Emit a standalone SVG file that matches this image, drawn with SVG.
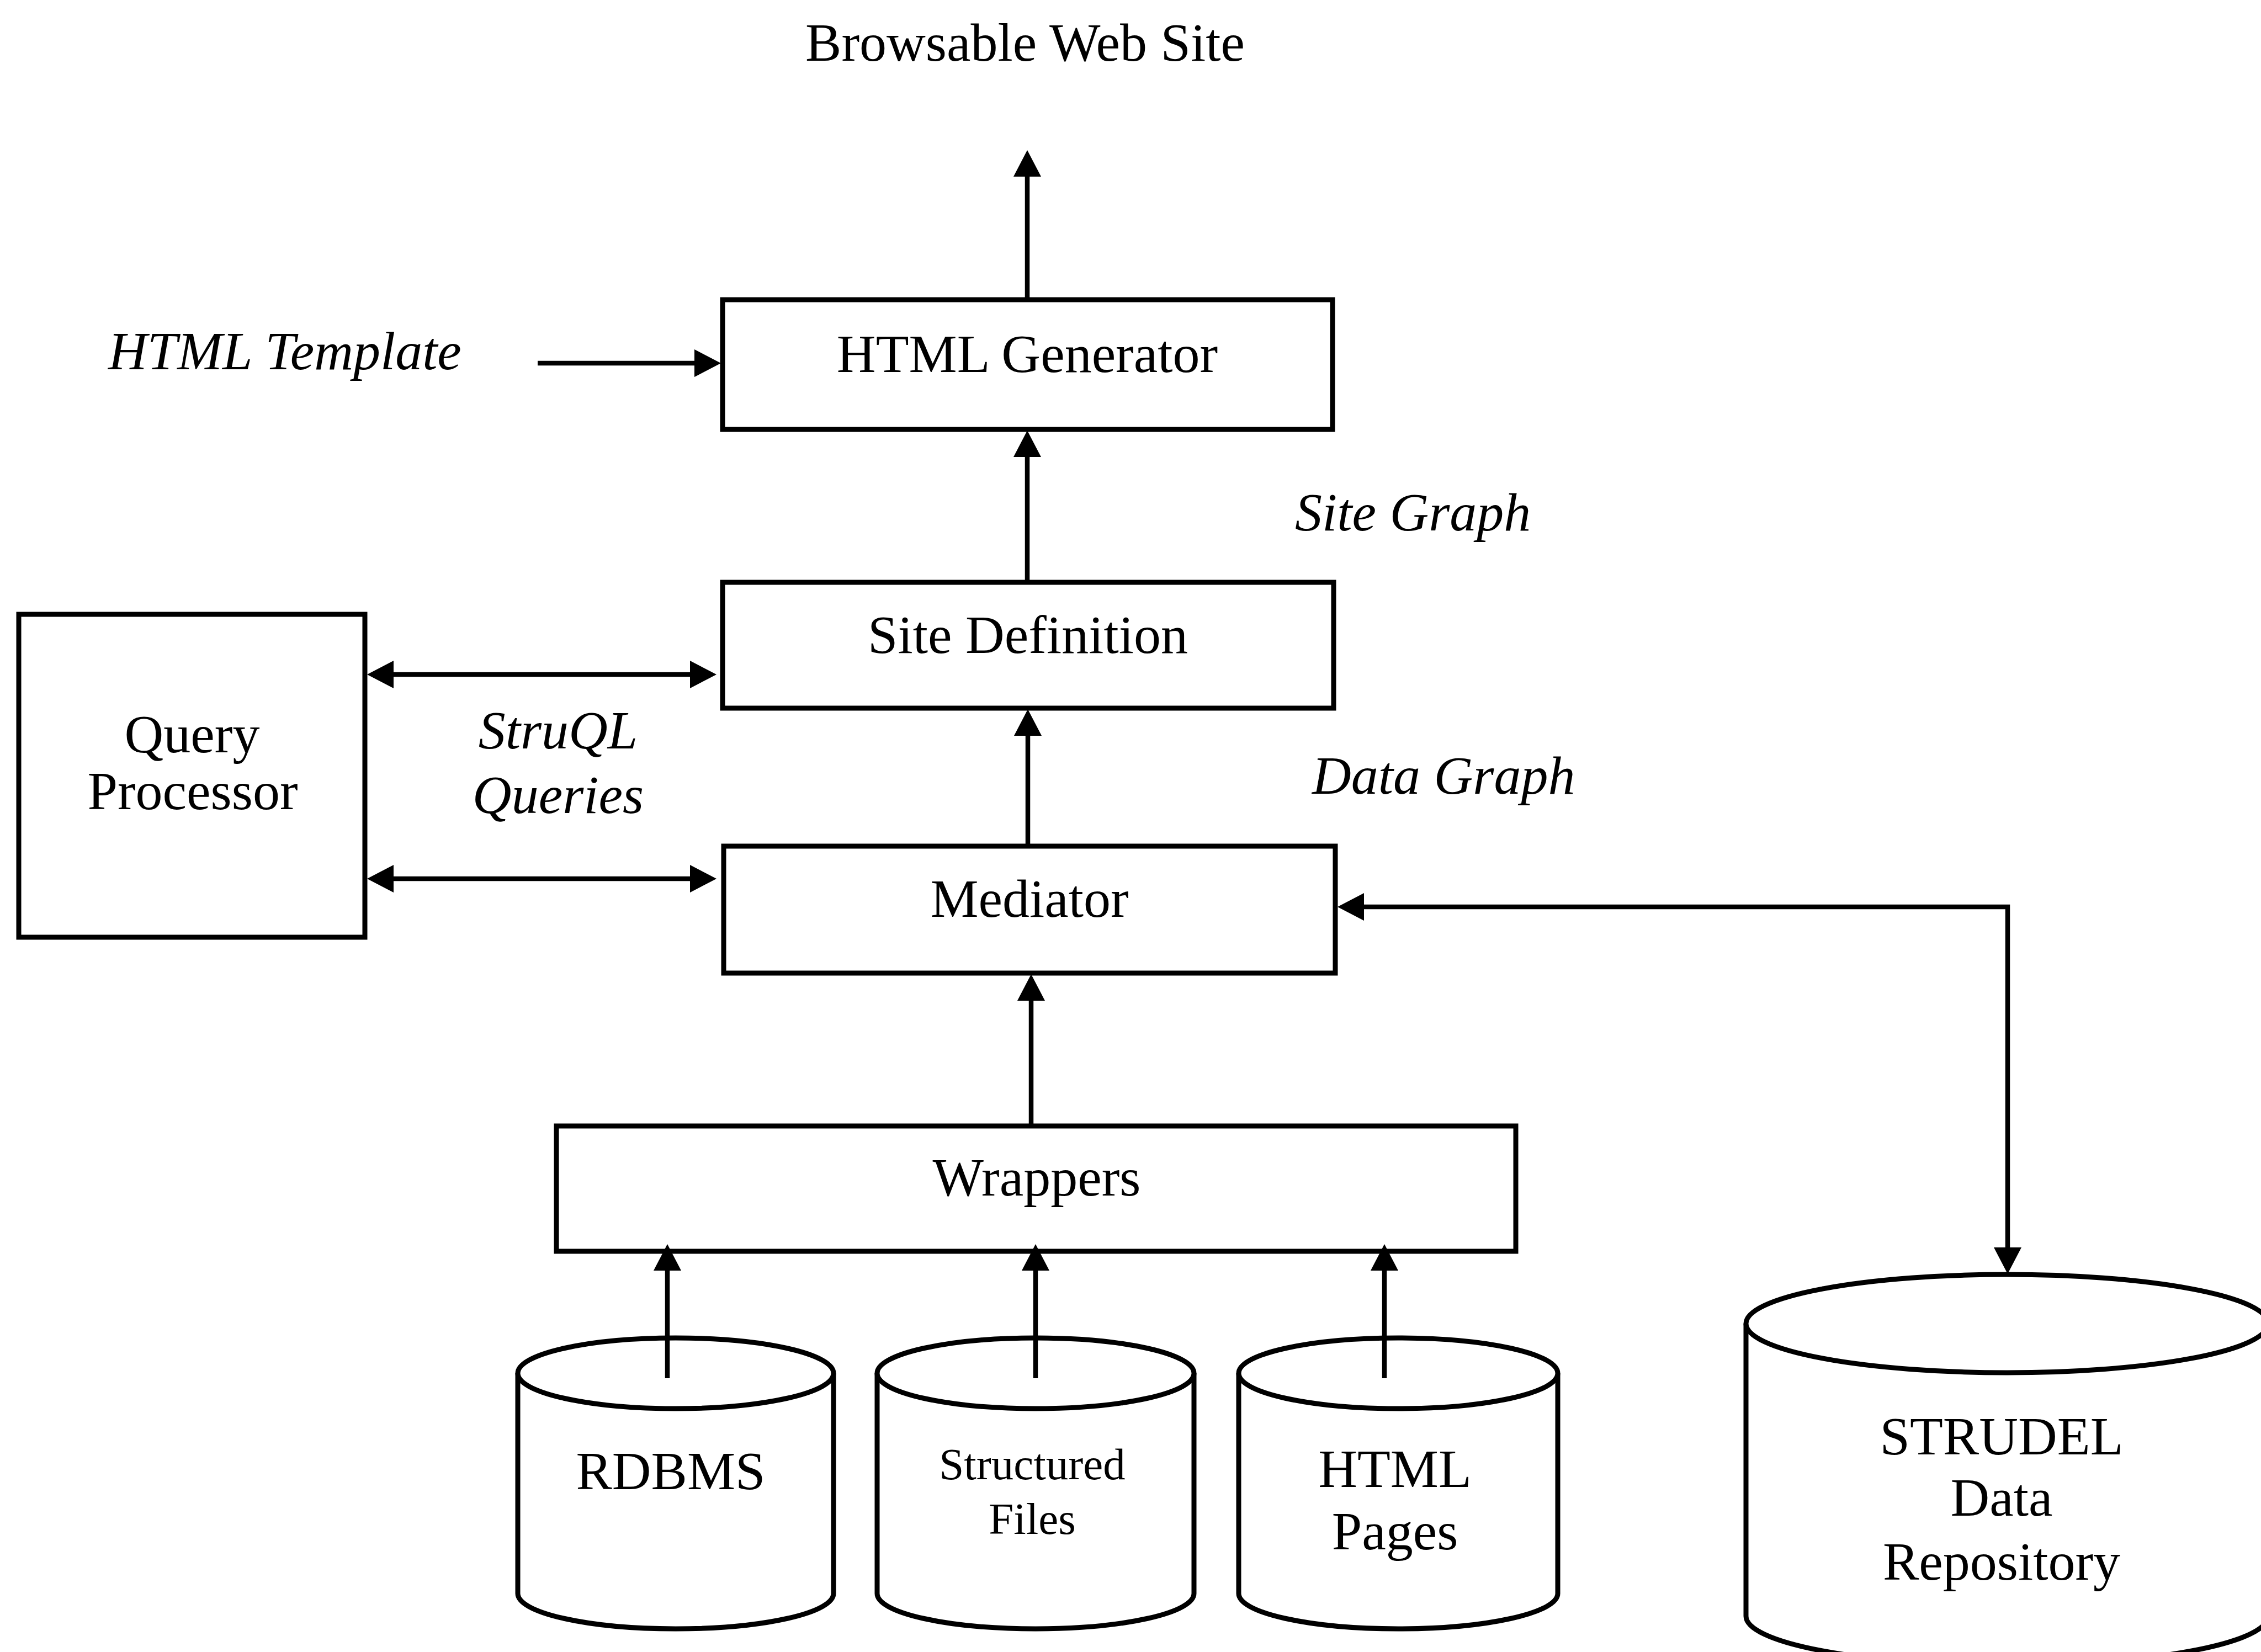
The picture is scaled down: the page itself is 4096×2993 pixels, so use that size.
<svg xmlns="http://www.w3.org/2000/svg" width="4096" height="2993" viewBox="0 0 4096 2993">
  <style>
    .box { fill: #ffffff; stroke: #000000; stroke-width: 9; }
    .cyl { fill: #ffffff; stroke: #000000; stroke-width: 9; }
    .link { fill: none; stroke: #000000; stroke-width: 8.5; }
    .lbl { font-family: "Liberation Serif", "Times New Roman", serif; font-size: 98px; fill: #000000; }
    .mid { text-anchor: middle; }
    .it { font-style: italic; }
    .small { font-size: 81px; }
  </style>
  <defs>
    <marker id="head" viewBox="0 0 48 50" markerWidth="48" markerHeight="50" refX="24" refY="25" orient="auto-start-reverse" markerUnits="userSpaceOnUse">
      <path d="M0,0 L48,25 L0,50 z" fill="#000000"/>
    </marker>
  </defs>
  <rect width="4096" height="2993" fill="#ffffff"/>

  <!-- free labels -->
  <g id="label-website">
    <text class="lbl mid" x="1857" y="110">Browsable Web Site</text>
  </g>
  <g id="label-template">
    <text class="lbl it" x="196" y="669">HTML Template</text>
  </g>
  <g id="label-sitegraph">
    <text class="lbl it" x="2346" y="961">Site Graph</text>
  </g>
  <g id="label-datagraph">
    <text class="lbl it" x="2377" y="1438">Data Graph</text>
  </g>
  <g id="label-struql">
    <text class="lbl it mid" x="1011" y="1356">StruQL</text>
    <text class="lbl it mid" x="1011" y="1473">Queries</text>
  </g>

  <!-- boxes -->
  <g id="html-generator">
    <rect class="box" x="1309" y="543" width="1105" height="235"/>
    <text class="lbl mid" x="1861" y="674">HTML Generator</text>
  </g>
  <g id="site-definition">
    <rect class="box" x="1309" y="1055" width="1107" height="228"/>
    <text class="lbl mid" x="1862" y="1183">Site Definition</text>
  </g>
  <g id="query-processor">
    <rect class="box" x="34" y="1113" width="627" height="585"/>
    <text class="lbl mid" x="348" y="1363">Query</text>
    <text class="lbl mid" x="349" y="1466">Processor</text>
  </g>
  <g id="mediator">
    <rect class="box" x="1311" y="1533" width="1108" height="230"/>
    <text class="lbl mid" x="1865" y="1661">Mediator</text>
  </g>
  <g id="wrappers">
    <rect class="box" x="1008" y="2040" width="1738" height="227"/>
    <text class="lbl mid" x="1878" y="2166">Wrappers</text>
  </g>

  <!-- data sources (cylinders) -->
  <g id="rdbms">
    <path class="cyl" d="M938,2488 V2887 A286,64 0 0 0 1510,2887 V2488"/>
    <ellipse class="cyl" cx="1224" cy="2488" rx="286" ry="64"/>
    <text class="lbl mid" x="1215" y="2698">RDBMS</text>
  </g>
  <g id="structured-files">
    <path class="cyl" d="M1589,2488 V2887 A287,64 0 0 0 2163,2887 V2488"/>
    <ellipse class="cyl" cx="1876" cy="2488" rx="287" ry="64"/>
    <text class="lbl mid small" x="1870" y="2680">Structured</text>
    <text class="lbl mid small" x="1870" y="2779">Files</text>
  </g>
  <g id="html-pages">
    <path class="cyl" d="M2244,2488 V2887 A289,64 0 0 0 2822,2887 V2488"/>
    <ellipse class="cyl" cx="2533" cy="2488" rx="289" ry="64"/>
    <text class="lbl mid" x="2527" y="2694">HTML</text>
    <text class="lbl mid" x="2527" y="2807">Pages</text>
  </g>
  <g id="strudel-repository">
    <path class="cyl" d="M3163,2398 V2928 A473,89 0 0 0 4109,2928 V2398"/>
    <ellipse class="cyl" cx="3636" cy="2398" rx="473" ry="89"/>
    <text class="lbl mid" x="3626" y="2635">STRUDEL</text>
    <text class="lbl mid" x="3626" y="2746">Data</text>
    <text class="lbl mid" x="3626" y="2862">Repository</text>
  </g>

  <!-- connectors: each line stops 24px short of its tip; the marker supplies the rest -->
  <g id="connectors">
    <path class="link" d="M1861,543 V296" marker-end="url(#head)"/>
    <path class="link" d="M974,658 H1282" marker-end="url(#head)"/>
    <path class="link" d="M1861,1055 V804" marker-end="url(#head)"/>
    <path class="link" d="M1862,1533 V1309" marker-end="url(#head)"/>
    <path class="link" d="M689,1222 H1274" marker-start="url(#head)" marker-end="url(#head)"/>
    <path class="link" d="M689,1592 H1274" marker-start="url(#head)" marker-end="url(#head)"/>
    <path class="link" d="M2447,1643 H3637 V2284" marker-start="url(#head)" marker-end="url(#head)"/>
    <path class="link" d="M1868,2040 V1789" marker-end="url(#head)"/>
    <path class="link" d="M1209,2497 V2278" marker-end="url(#head)"/>
    <path class="link" d="M1876,2497 V2278" marker-end="url(#head)"/>
    <path class="link" d="M2508,2497 V2278" marker-end="url(#head)"/>
  </g>
</svg>
